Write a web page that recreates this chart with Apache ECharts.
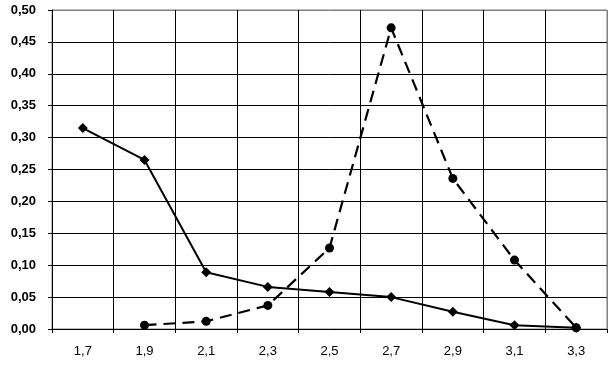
<!DOCTYPE html>
<html><head><meta charset="utf-8">
<script src="https://cdn.jsdelivr.net/npm/echarts@6/dist/echarts.min.js"></script>
<style>html,body{margin:0;padding:0;background:#fff}#c{width:614px;height:367px}</style>
</head><body><div id="c"></div>
<script>
const categories = ['1,7','1,9','2,1','2,3','2,5','2,7','2,9','3,1','3,3'];
const solidSeries = [0.315, 0.265, 0.089, 0.066, 0.058, 0.050, 0.027, 0.006, 0.002];
const dashedSeries = [null, 0.006, 0.012, 0.037, 0.127, 0.472, 0.236, 0.108, 0.002];
const yTicks = { min: 0, max: 0.5, interval: 0.05 };

const hColors = Array(10).fill('#000').concat(['#808080']);
const vColors = Array(9).fill('#000').concat(['#808080']);

const chart = echarts.init(document.getElementById('c'));
chart.setOption({
  animation: false,
  backgroundColor: '#fff',
  grid: { left: 52, right: 7, top: 10, bottom: 38, show: true, borderColor: '#808080', borderWidth: 1 },
  xAxis: {
    type: 'category', data: categories, boundaryGap: true,
    axisLine: { lineStyle: { color: '#000', width: 1 } },
    axisTick: { show: true, length: 4, lineStyle: { color: '#000' } },
    axisLabel: { color: '#000', fontFamily: 'Liberation Sans', fontSize: 13, margin: 16 },
    splitLine: { show: true, lineStyle: { color: vColors, width: 1 } }
  },
  yAxis: {
    type: 'value', min: yTicks.min, max: yTicks.max, interval: yTicks.interval,
    axisLine: { show: true, lineStyle: { color: '#000', width: 1 } },
    axisTick: { show: true, length: 4, lineStyle: { color: '#000' } },
    axisLabel: { color: '#000', fontFamily: 'Liberation Sans', fontSize: 13, fontWeight: 'bold', margin: 16,
      formatter: v => v.toFixed(2).replace('.', ',') },
    splitLine: { show: true, lineStyle: { color: hColors, width: 1 } }
  },
  series: [
    { type: 'line', data: solidSeries, symbol: 'diamond', symbolSize: 10,
      lineStyle: { color: '#000', width: 2 }, itemStyle: { color: '#000' } },
    { type: 'line', data: dashedSeries, symbol: 'circle', symbolSize: 9,
      lineStyle: { color: '#000', width: 2.2, type: [12, 7] }, itemStyle: { color: '#000' } }
  ]
});
</script></body></html>
